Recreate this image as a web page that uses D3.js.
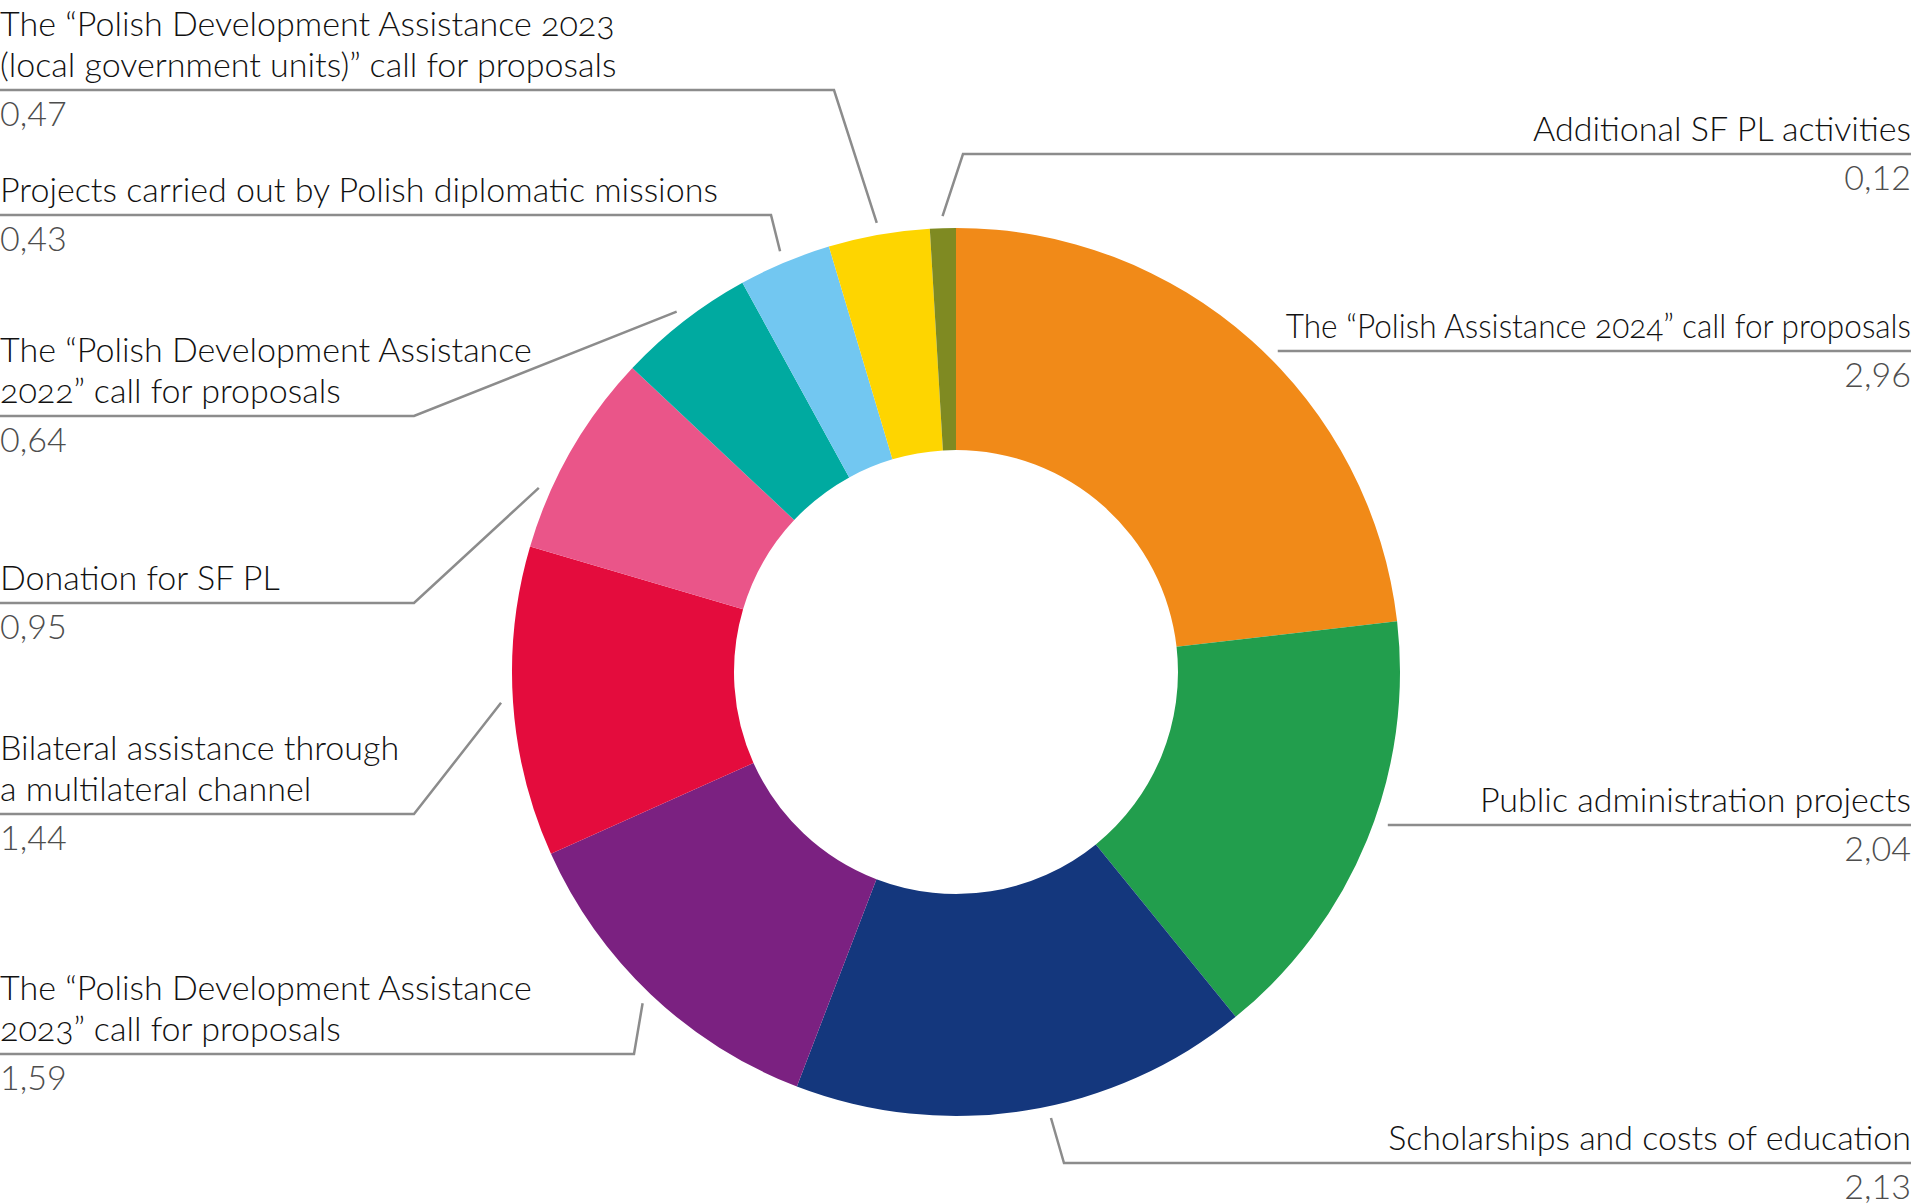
<!DOCTYPE html>
<html>
<head>
<meta charset="utf-8">
<script src="https://cdn.jsdelivr.net/npm/d3@7"></script>
<style>
  body { margin: 0; background: #fff; }
  text { font-family: Lato, "Open Sans", sans-serif; font-weight: 300; }
</style>
</head>
<body>
<script>
/* donut of the 2024 spending items, clockwise from the top */
var labels = [
    "The \u201cPolish Assistance 2024\u201d call for proposals",
    "Public administration projects",
    "Scholarships and costs of education",
    "The \u201cPolish Development Assistance\n2023\u201d call for proposals",
    "Bilateral assistance through\na multilateral channel",
    "Donation for SF PL",
    "The \u201cPolish Development Assistance\n2022\u201d call for proposals",
    "Projects carried out by Polish diplomatic missions",
    "The \u201cPolish Development Assistance 2023\n(local government units)\u201d call for proposals",
    "Additional SF PL activities"
];
var values = [2.96, 2.04, 2.13, 1.59, 1.44, 0.95, 0.64, 0.43, 0.47, 0.12];
var valueLabels = ["2,96", "2,04", "2,13", "1,59", "1,44", "0,95", "0,64", "0,43", "0,47", "0,12"];
var colors = ["#f18a18", "#229e4d", "#14377d", "#7b2181", "#e40c3d",
              "#ea5589", "#00aaa0", "#72c7f1", "#fed500", "#7f8a22"];

// layout: side of the label, y of the underline, x of the elbow (null = straight),
// small angle nudge (degrees) of where the leader leaves the ring
var side   = ["r", "r", "r", "l", "l", "l", "l", "l", "l", "r"];
var lineY  = [351, 825, 1163, 1054, 814, 603, 416, 215, 90, 154];
var elbowX = [null, null, 1064, 634, 414, 414, 414, 771, 834, 963];
var nudge  = [0, 0, -3, 0, 0, -6, 0, 0, 0, 0];

var width = 1913, height = 1204;
var cx = 956, cy = 672, outerR = 444, innerR = 222;
var lineGap = 41.5;

var svg = d3.select("body").append("svg")
    .attr("width", width)
    .attr("height", height);

var pie = d3.pie().sort(null).value(function(d){ return d; });
var arcs = pie(values);

var arc = d3.arc().innerRadius(innerR).outerRadius(outerR);

var g = svg.append("g").attr("transform", "translate(" + cx + "," + cy + ")");

g.selectAll("path")
    .data(arcs)
    .enter()
    .append("path")
    .attr("d", arc)
    .attr("fill", function(d, i){ return colors[i]; });

// font size so the longest single line fits the reference width
var probe = svg.append("text").attr("font-size", 100).text(labels[7]);
var fs = 100 * 718 / probe.node().getComputedTextLength();
probe.remove();

var leaders = svg.append("g");
var texts = svg.append("g");

arcs.forEach(function(a, i){
    var mid = (a.startAngle + a.endAngle) / 2 + nudge[i] * Math.PI / 180;
    var px = cx + Math.sin(mid) * (outerR + 12),
        py = cy - Math.cos(mid) * (outerR + 12);
    var y = lineY[i];
    var pts, room = null;
    if (elbowX[i] === null) {
        // straight underline, starts just outside the ring
        var edge = cx + Math.sqrt(outerR * outerR - (y - cy) * (y - cy)) + 15;
        pts = [[edge, y], [width - 2, y]];
        room = width - 2 - edge - 8;
    } else if (side[i] === "l") {
        pts = [[px, py], [elbowX[i], y], [0, y]];
    } else {
        pts = [[px, py], [elbowX[i], y], [width - 2, y]];
    }
    leaders.append("path")
        .attr("d", d3.line()(pts))
        .attr("fill", "none")
        .attr("stroke", "#8c8c8c")
        .attr("stroke-width", 2.5);

    var tx = side[i] === "l" ? 0 : width - 2;
    var anchor = side[i] === "l" ? "start" : "end";
    var lines = labels[i].split("\n");
    lines.forEach(function(l, k){
        var t = texts.append("text")
            .attr("x", tx)
            .attr("y", y - 13 - (lines.length - 1 - k) * lineGap)
            .attr("text-anchor", anchor)
            .attr("font-size", fs)
            .style("font-variant-numeric", "oldstyle-nums")
            .attr("fill", "#111")
            .text(l);
        // squeeze a line that would run into the ring
        if (room !== null && t.node().getComputedTextLength() > room) {
            t.attr("textLength", room).attr("lengthAdjust", "spacingAndGlyphs");
        }
    });
    texts.append("text")
        .attr("x", tx)
        .attr("y", y + 36)
        .attr("text-anchor", anchor)
        .attr("font-size", fs)
        .attr("fill", "#4d4d4d")
        .text(valueLabels[i]);
});
</script>
</body>
</html>
